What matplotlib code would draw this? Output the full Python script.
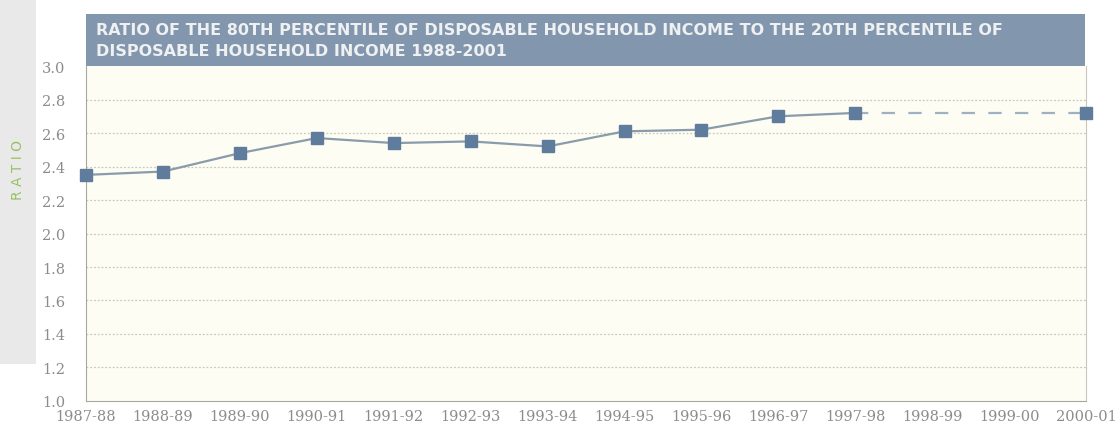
import numpy as np
import matplotlib
matplotlib.use("Agg")
import matplotlib.pyplot as plt
from matplotlib.patches import Rectangle

# ── Data ───────────────────────────────────────────────────────
years = ["1987-88", "1988-89", "1989-90", "1990-91", "1991-92", "1992-93",
         "1993-94", "1994-95", "1995-96", "1996-97", "1997-98", "1998-99",
         "1999-00", "2000-01"]
ratio_years = ["1987-88", "1988-89", "1989-90", "1990-91", "1991-92", "1992-93",
               "1993-94", "1994-95", "1995-96", "1996-97", "1997-98"]
ratio = [2.35, 2.37, 2.48, 2.57, 2.54, 2.55, 2.52, 2.61, 2.62, 2.70, 2.72]
gap_years = ["1997-98", "2000-01"]
gap_ratio = [2.72, 2.72]
y_ticks = [1.0, 1.2, 1.4, 1.6, 1.8, 2.0, 2.2, 2.4, 2.6, 2.8, 3.0]

title = ("RATIO OF THE 80TH PERCENTILE OF DISPOSABLE HOUSEHOLD INCOME TO THE 20TH PERCENTILE OF\n"
         "DISPOSABLE HOUSEHOLD INCOME 1988-2001")

# ── Plot ───────────────────────────────────────────────────────
fig = plt.figure(figsize=(11.19, 4.35), dpi=100)
fig.patch.set_facecolor("white")

# grey strip on the left with the axis label
fig.add_artist(Rectangle((0, 0.16), 0.032, 0.84, transform=fig.transFigure,
                         facecolor="#e9e9e9", edgecolor="none"))
fig.text(0.016, 0.61, "R A T I O", rotation=90, ha="center", va="center",
         color="#98c264", fontsize=10, family="DejaVu Sans")

ax = fig.add_axes([0.0769, 0.0759, 0.8937, 0.770])
ax.set_facecolor("#fdfdf4")

x_pos = {y: i for i, y in enumerate(years)}
ax.plot([x_pos[y] for y in ratio_years], ratio, color="#8a9baa", linewidth=1.6,
        marker="s", markersize=8, markerfacecolor="#5f7c9c",
        markeredgecolor="#5f7c9c", clip_on=False, zorder=3)
ax.plot([x_pos[y] for y in gap_years], gap_ratio, color="#9fb0c2", linewidth=1.6,
        linestyle=(0, (6, 6)), zorder=2)
ax.plot([x_pos[gap_years[-1]]], [gap_ratio[-1]], marker="s", markersize=8,
        color="#5f7c9c", clip_on=False, zorder=4)

ax.set_xlim(0, len(years) - 1)
ax.set_ylim(1.0, 3.0)
ax.set_xticks(range(len(years)))
ax.set_xticklabels(years)
ax.set_yticks(y_ticks)
ax.set_yticklabels([f"{v:.1f}" for v in y_ticks])
ax.tick_params(axis="both", length=0, colors="#8c8c8c", labelsize=10.5)
ax.tick_params(axis="y", pad=15)
ax.tick_params(axis="x", pad=6)
for lab in ax.get_xticklabels() + ax.get_yticklabels():
    lab.set_family("DejaVu Serif")

for v in y_ticks[1:-1]:
    ax.axhline(v, color="#c9c9c0", linewidth=0.9, linestyle=(0, (1.5, 1.5)), zorder=1)

ax.spines["top"].set_visible(False)
ax.spines["left"].set_color("#a8a8a0")
ax.spines["bottom"].set_color("#a8a8a0")
ax.spines["right"].set_color("#c8c8c0")

# title banner
fig.add_artist(Rectangle((0.0769, 0.846), 0.8928, 0.1195, transform=fig.transFigure,
                         facecolor="#8297ad", edgecolor="none"))
fig.text(0.086, 0.906, title, ha="left", va="center", color="#eef0f2",
         fontsize=11.5, fontweight="bold", family="DejaVu Sans", linespacing=1.45)

fig.savefig("out.png", dpi=100)
